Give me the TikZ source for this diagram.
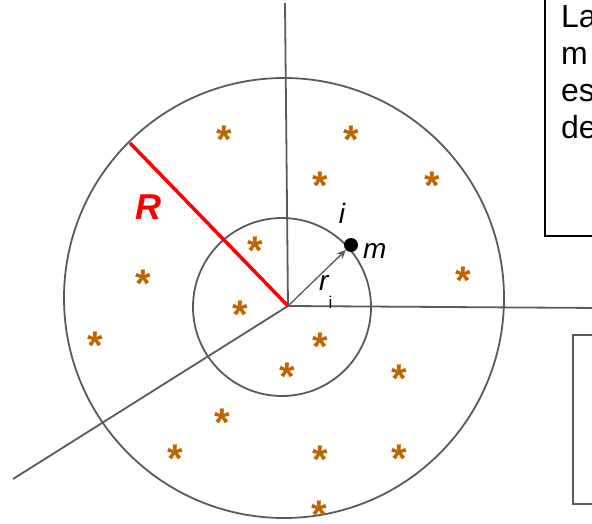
\documentclass[tikz,border=0pt]{standalone}
\usepackage{fontspec}
\setmainfont{Liberation Sans}
\usetikzlibrary{arrows.meta}
\definecolor{lineg}{RGB}{90,90,90}
\definecolor{starc}{RGB}{192,100,0}

\begin{document}
\begin{tikzpicture}[x=1pt, y=-1pt,
    gline/.style={draw=lineg, line width=1.8pt},
    starmark/.style={text=starc, font=\fontsize{40}{40}\selectfont\bfseries, inner sep=0pt, anchor=base, yshift=-22pt},
    lbl/.style={inner sep=0pt, font=\fontsize{28}{28}\selectfont\itshape}]
    \useasboundingbox (0,0) rectangle (592,524);

    \coordinate (c) at (288,306);
    \coordinate (top) at (285,3);
    \coordinate (rgt) at (600,308);
    \coordinate (lft) at (13,479);
    \coordinate (redend) at (130,143);

    % circles
    \draw[gline] (284,298) circle (220);
    \draw[gline] (282,307) circle (89);

    % radial lines
    \draw[gline] (c) -- (top);
    \draw[gline] (c) -- (rgt);
    \draw[gline] (c) -- (lft);
    \draw[red, line width=3.5pt] (c) -- (redend);

    % mass m
    \node[circle, fill=black, inner sep=0pt, minimum size=14pt] (m) at (351,245) {};
    \draw[gline, line width=1.3pt, -{Stealth[length=9pt, width=8pt]}] (c) -- (m);

    \node[lbl] (ilab) at (342,213) {i};
    \node[lbl, anchor=base west] (mlab) at (363,258) {m};
    \node[lbl, anchor=base west] (rlab) at (319,290) {r\raisebox{-18pt}{\upshape\fontsize{17}{17}\selectfont i}};
    \node[text=red, inner sep=0pt, font=\fontsize{36}{36}\selectfont\bfseries\itshape] (Rlab) at (148,207) {R};

    % stars
    \foreach \sx/\sy [count=\k] in {224/132, 351/132, 320/178, 432/178, 255/242, 143/275,
        463/272, 240/306, 95/337, 320/338, 287/368, 399/370, 222/414, 175/450,
        320/451, 399/450, 319/506}
        \node[starmark] (s\k) at (\sx,\sy) {*};

    % boxes at the right
    \draw[black, line width=2.5pt] (545,-10) rectangle (620,236);
    \node[anchor=north west, align=left, inner sep=0pt, font=\fontsize{32}{37}\selectfont] (note) at (561,5) {La\\m\\es\\de};
    \draw[gline, line width=2.2pt] (573,335) rectangle (620,504);
\end{tikzpicture}
\end{document}
